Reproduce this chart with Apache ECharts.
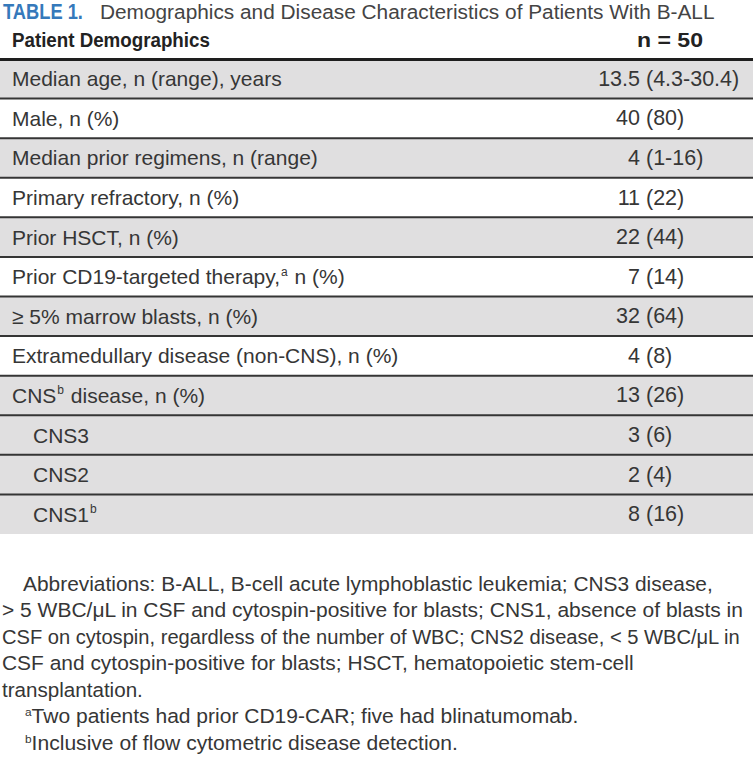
<!DOCTYPE html>
<html><head><meta charset="utf-8">
<script src="https://cdn.jsdelivr.net/npm/echarts@6/dist/echarts.min.js"></script>
<style>html,body{margin:0;padding:0;background:#fff}#c{width:753px;height:762px}</style>
</head><body><div id="c"></div>
<script>
// ---------- data ----------
const tableTitle = 'TABLE 1.';
const tableCaption = 'Demographics and Disease Characteristics of Patients With B-ALL';
const columnHeaders = ['Patient Demographics', 'n = 50'];
const rowLabels = [
  'Median age, n (range), years',
  'Male, n (%)',
  'Median prior regimens, n (range)',
  'Primary refractory, n (%)',
  'Prior HSCT, n (%)',
  'Prior CD19-targeted therapy,^a n (%)',
  '\u2265 5% marrow blasts, n (%)',
  'Extramedullary disease (non-CNS), n (%)',
  'CNS^b disease, n (%)',
  'CNS3',
  'CNS2',
  'CNS1^b'
];
const rowLevels = [0, 0, 0, 0, 0, 0, 0, 0, 0, 1, 1, 1];
const rowShaded = [1, 0, 1, 0, 1, 0, 1, 0, 1, 1, 1, 1];
const rowValues = ['13.5 (4.3-30.4)', '40 (80)', '4 (1-16)', '11 (22)', '22 (44)', '7 (14)',
                   '32 (64)', '4 (8)', '13 (26)', '3 (6)', '2 (4)', '8 (16)'];
const footnoteLines = [
  'Abbreviations: B-ALL, B-cell acute lymphoblastic leukemia; CNS3 disease,',
  '> 5 WBC/\u03bcL in CSF and cytospin-positive for blasts; CNS1, absence of blasts in',
  'CSF on cytospin, regardless of the number of WBC; CNS2 disease, < 5 WBC/\u03bcL in',
  'CSF and cytospin-positive for blasts; HSCT, hematopoietic stem-cell',
  'transplantation.',
  '^aTwo patients had prior CD19-CAR; five had blinatumomab.',
  '^bInclusive of flow cytometric disease detection.'
];

// ---------- layout / style ----------
const FONT = "'Liberation Sans', Arial, Helvetica, sans-serif";
const TEXT = '#363636';
const SHADE = '#e0dfe0';
const footSpan = [[23, 713], [2, 744], [2, 741], [2, 634], [2, 143], [25, 579], [25, 458]];
const footTop = 584, footStep = 26.5, footSize = 19.5;
const valueSplitX = 646;

const mctx = document.createElement('canvas').getContext('2d');
function segs(s) {
  const out = []; const re = /\^(\w)/g; let last = 0, m;
  while ((m = re.exec(s))) {
    if (m.index > last) out.push({ t: s.slice(last, m.index), sup: false });
    out.push({ t: m[1], sup: true }); last = re.lastIndex;
  }
  if (last < s.length) out.push({ t: s.slice(last), sup: false });
  return out;
}
function measure(s, size, supSize, weight) {
  let w = 0;
  for (const g of segs(s)) {
    mctx.font = (weight || 'normal') + ' ' + (g.sup ? supSize : size) + 'px ' + FONT;
    w += mctx.measureText(g.t).width;
  }
  return w;
}
function fitScale(s, size, supSize, weight, target) { return target / measure(s, size, supSize, weight); }

const labelRich = {
  m: { fontSize: 21, fontFamily: FONT, color: TEXT, lineHeight: 26 },
  mi: { fontSize: 21, fontFamily: FONT, color: TEXT, lineHeight: 26, padding: [0, 0, 0, 21] },
  s: { fontSize: 12, fontFamily: FONT, color: TEXT, lineHeight: 12, verticalAlign: 'top', padding: [2, 1, 0, 1] }
};

const graphics = [];
// title
graphics.push({
  type: 'text', x: 3, y: 11, scaleX: fitScale(tableTitle, 22, 12, 'bold', 80),
  style: { text: tableTitle, font: 'bold 22px ' + FONT, fill: '#3579bb', verticalAlign: 'middle' }
});
graphics.push({
  type: 'text', x: 100, y: 11, scaleX: fitScale(tableCaption, 21, 12, 'normal', 615),
  style: { text: tableCaption, font: '21px ' + FONT, fill: '#444444', verticalAlign: 'middle' }
});
// column headers
graphics.push({
  type: 'text', x: 12, y: 40, scaleX: fitScale(columnHeaders[0], 21, 12, 'bold', 198),
  style: { text: columnHeaders[0], font: 'bold 21px ' + FONT, fill: '#222222', verticalAlign: 'middle' }
});
graphics.push({
  type: 'text', x: 637, y: 40, scaleX: fitScale(columnHeaders[1], 21, 12, 'bold', 66),
  style: { text: columnHeaders[1], font: 'bold 21px ' + FONT, fill: '#222222', verticalAlign: 'middle' }
});
// footnotes
footnoteLines.forEach((line, k) => {
  const sp = footSpan[k];
  graphics.push({
    type: 'text', x: sp[0], y: footTop + k * footStep,
    scaleX: fitScale(line, footSize, 11, 'normal', sp[1] - sp[0]),
    style: {
      text: segs(line).map(g => '{' + (g.sup ? 's' : 'm') + '|' + g.t + '}').join(''),
      verticalAlign: 'middle', fill: TEXT,
      rich: {
        m: { fontSize: footSize, fontFamily: FONT, fill: TEXT, lineHeight: 22 },
        s: { fontSize: 11, fontFamily: FONT, fill: TEXT, lineHeight: 11, verticalAlign: 'top', padding: [1.5, 0, 0, 0] }
      }
    }
  });
});

const chart = echarts.init(document.getElementById('c'), null, { renderer: 'svg' });
chart.setOption({
  animation: false,
  backgroundColor: '#ffffff',
  grid: { left: 0, right: 0, top: 59, height: 475 },
  xAxis: {
    type: 'value', min: 0, max: 753, position: 'top', z: 6,
    axisLine: { show: true, lineStyle: { color: '#1e1e1e', width: 3 } },
    axisTick: { show: false }, axisLabel: { show: false }, splitLine: { show: false }
  },
  yAxis: {
    type: 'category', inverse: true, data: rowLabels, z: 6,
    axisLine: { show: false }, axisTick: { show: false }, splitLine: { show: false },
    axisLabel: {
      inside: true, margin: 12, align: 'left',
      formatter: (v, idx) => segs(v).map((g, k) =>
        '{' + (g.sup ? 's' : (k === 0 && rowLevels[idx] ? 'mi' : 'm')) + '|' + g.t + '}').join(''),
      rich: labelRich
    }
  },
  series: [{
    type: 'custom',
    encode: { x: 0, y: 1 },
    data: rowLabels.map((l, i) => [0, i, rowShaded[i]]),
    renderItem: (params, api) => {
      const i = api.value(1);
      const c = api.coord([0, i]);
      const h = api.size([0, 1])[1];
      const cs = params.coordSys;
      const top = c[1] - h / 2;
      const parts = rowValues[i].split(' ');
      const children = [{
        type: 'rect', z2: 0,
        shape: { x: cs.x, y: top, width: cs.width, height: h },
        style: { fill: api.value(2) ? SHADE : '#ffffff' }
      }];
      if (i > 0) children.push({
        type: 'line', z2: 5,
        shape: { x1: cs.x, y1: top, x2: cs.x + cs.width, y2: top },
        style: { stroke: '#353535', lineWidth: 2 }
      });
      children.push({
        type: 'text', z2: 10, x: valueSplitX - 6, y: c[1],
        style: { text: parts[0], font: '21.5px ' + FONT, fill: TEXT, align: 'right', verticalAlign: 'middle' }
      });
      children.push({
        type: 'text', z2: 10, x: valueSplitX, y: c[1],
        style: { text: parts.slice(1).join(' '), font: '21.5px ' + FONT, fill: TEXT, align: 'left', verticalAlign: 'middle' }
      });
      return { type: 'group', children };
    }
  }],
  graphic: graphics
});
</script>
</body></html>
